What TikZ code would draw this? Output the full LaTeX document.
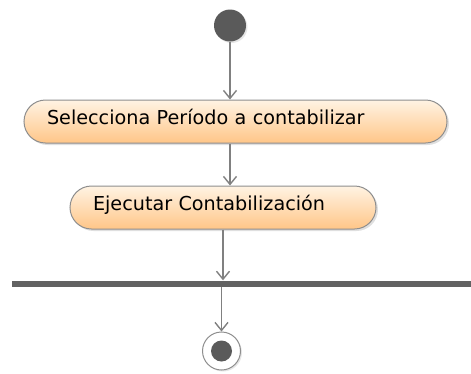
\documentclass[tikz,border=0pt]{standalone}
\usepackage{fontspec}
\setmainfont{DejaVu Sans}
\usepackage{xcolor}
\usepackage{tikz}
\usetikzlibrary{arrows.meta, shapes.misc, shadows}

\definecolor{actTop}{HTML}{FFF3E3}
\definecolor{actBot}{HTML}{FFC688}
\definecolor{flowGray}{HTML}{808080}
\definecolor{edgeGray}{HTML}{8E8E8E}
\definecolor{darkGray}{HTML}{5A5A5A}

\tikzset{
    act/.style={rectangle, rounded corners=21.5pt, draw=edgeGray, line width=1pt,
        top color=actTop, bottom color=actBot, minimum height=43pt,
        inner xsep=23pt, inner ysep=0pt, align=left,
        text height=14pt, text depth=8pt,
        font=\fontsize{19.2}{22}\selectfont,
        drop shadow={shadow xshift=2pt, shadow yshift=-2pt, opacity=.25}},
    flow/.style={draw=flowGray, line width=1.3pt,
        -{Straight Barb[length=8pt, width=13pt, line width=1.4pt]}},
}

\begin{document}
\begin{tikzpicture}[x=1pt, y=-1pt]
        \useasboundingbox (0,0) rectangle (471,373);

        \node[circle, fill=darkGray, minimum size=32pt, inner sep=0pt,
              drop shadow={shadow xshift=1.5pt, shadow yshift=-1.5pt, opacity=.2}] (start) at (230,25.5) {};

        \node[act, text width=377pt] (sel)  at (235.5,121.5) {Selecciona Período a contabilizar};
        \node[act, text width=260pt] (ejec) at (223,207.5)   {Ejecutar Contabilización};

        \node[rectangle, fill=darkGray!95, minimum width=459pt, minimum height=6pt,
              inner sep=0pt] (bar) at (241.5,283.5) {};

        \node[circle, draw=edgeGray, fill=white, line width=1pt, minimum size=38pt,
              inner sep=0pt, drop shadow={shadow xshift=1.5pt, shadow yshift=-1.5pt, opacity=.2}] (fin) at (221.5,351) {};
        \node[circle, fill=darkGray, minimum size=21pt, inner sep=0pt] (finin) at (fin) {};

        \draw[flow] (start) -- (start |- sel.north);
        \draw[flow] (sel.south -| start) -- (ejec.north -| start);
        \draw[flow] (ejec) -- (ejec |- bar.north);
        \draw[flow] (bar.south -| fin) -- (fin);
    \end{tikzpicture}
\end{document}
